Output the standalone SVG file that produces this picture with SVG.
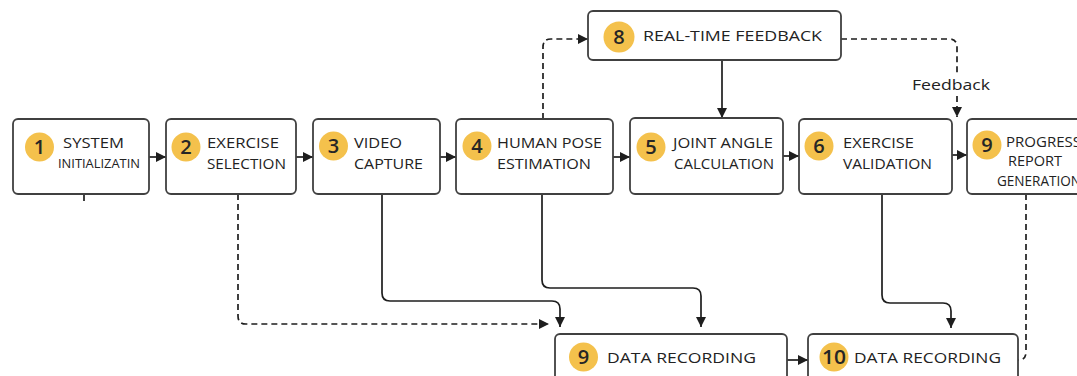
<svg xmlns="http://www.w3.org/2000/svg" width="1077" height="376" viewBox="0 0 1077 376">
  <defs>
    <style>
      .box { fill: #ffffff; stroke: #404040; stroke-width: 1.8; }
      .badge { fill: #f4c14c; }
      .num { font-family: "Open Sans", "Noto Sans", sans-serif; font-size: 20px; font-weight: 600; fill: #262626; text-anchor: middle; }
      .lbl { font-family: "Open Sans", "Noto Sans", sans-serif; font-size: 15px; font-weight: 500; fill: #222222; }
      .sm { font-size: 12px; }
      .line { fill: none; stroke: #1e1e1e; stroke-width: 1.7; }
      .dash { stroke-dasharray: 6 4; }
    </style>
    <marker id="arrow" viewBox="0 0 10 10" refX="10" refY="5" markerWidth="10" markerHeight="10" markerUnits="userSpaceOnUse" orient="auto">
      <path d="M0,0 L10,5 L0,10 Z" fill="#1e1e1e"/>
    </marker>
  </defs>

  <rect width="1077" height="376" fill="#ffffff"/>

  <!-- connectors -->
  <g id="connectors">
    <!-- main pipeline -->
    <path class="line" d="M149,157 H166" marker-end="url(#arrow)"/>
    <path class="line" d="M296,157 H313" marker-end="url(#arrow)"/>
    <path class="line" d="M440,157 H456" marker-end="url(#arrow)"/>
    <path class="line" d="M613,157 H630" marker-end="url(#arrow)"/>
    <path class="line" d="M783,156 H799" marker-end="url(#arrow)"/>
    <path class="line" d="M952,155 H967" marker-end="url(#arrow)"/>
    <!-- short stub under system initialization -->
    <path class="line" d="M84,195 V201"/>
    <!-- exercise selection to data recording (dashed) -->
    <path class="line dash" d="M238,194 V316 Q238,324 246,324 H549" marker-end="url(#arrow)"/>
    <!-- video capture to data recording -->
    <path class="line" d="M382,194 V293 Q382,301 390,301 H552 Q560,301 560,309 V327" marker-end="url(#arrow)"/>
    <!-- pose estimation to data recording -->
    <path class="line" d="M542,194 V280 Q542,288 550,288 H693 Q701,288 701,296 V327" marker-end="url(#arrow)"/>
    <!-- exercise validation to data recording 10 -->
    <path class="line" d="M882,194 V295 Q882,303 890,303 H943 Q951,303 951,311 V328" marker-end="url(#arrow)"/>
    <!-- progress report to data recording 10 (dashed) -->
    <path class="line dash" d="M1026,194 V352 Q1026,360 1018,360"/>
    <!-- data recording 9 to 10 -->
    <path class="line" d="M787,360 H808" marker-end="url(#arrow)"/>
    <!-- pose estimation up to real-time feedback (dashed) -->
    <path class="line dash" d="M543,119 V47 Q543,39 551,39 H588" marker-end="url(#arrow)"/>
    <!-- real-time feedback to joint angle -->
    <path class="line" d="M722,60 V118" marker-end="url(#arrow)"/>
    <!-- real-time feedback to progress report (dashed) -->
    <path class="line dash" d="M841,39 H949 Q957,39 957,47 V76"/>
    <path class="line dash" d="M957,96 V117" marker-end="url(#arrow)"/>
    <text class="lbl" x="951" y="90" text-anchor="middle" textLength="78" lengthAdjust="spacingAndGlyphs">Feedback</text>
  </g>

  <g id="n1">
    <rect class="box" x="13" y="119" width="136" height="75" rx="5"/>
    <circle class="badge" cx="39.5" cy="147" r="14.5"/>
    <text class="num" x="39.5" y="154">1</text>
    <text class="lbl" x="63" y="148" textLength="61" lengthAdjust="spacingAndGlyphs">SYSTEM</text>
    <text class="lbl sm" x="58" y="168" textLength="82" lengthAdjust="spacingAndGlyphs">INITIALIZATIN</text>
  </g>

  <g id="n2">
    <rect class="box" x="166" y="119" width="130" height="75" rx="5"/>
    <circle class="badge" cx="186" cy="147" r="14.5"/>
    <text class="num" x="186" y="154">2</text>
    <text class="lbl" x="207" y="148" textLength="72" lengthAdjust="spacingAndGlyphs">EXERCISE</text>
    <text class="lbl" x="207" y="168.5" textLength="79" lengthAdjust="spacingAndGlyphs">SELECTION</text>
  </g>

  <g id="n3">
    <rect class="box" x="313" y="119" width="127" height="75" rx="5"/>
    <circle class="badge" cx="333.5" cy="146" r="14.5"/>
    <text class="num" x="333.5" y="153">3</text>
    <text class="lbl" x="354" y="148" textLength="48" lengthAdjust="spacingAndGlyphs">VIDEO</text>
    <text class="lbl" x="354" y="168.5" textLength="69" lengthAdjust="spacingAndGlyphs">CAPTURE</text>
  </g>

  <g id="n4">
    <rect class="box" x="456" y="119" width="157" height="75" rx="5"/>
    <circle class="badge" cx="477" cy="146" r="14.5"/>
    <text class="num" x="477" y="153">4</text>
    <text class="lbl" x="497" y="148" textLength="105" lengthAdjust="spacingAndGlyphs">HUMAN POSE</text>
    <text class="lbl" x="497" y="168.5" textLength="94" lengthAdjust="spacingAndGlyphs">ESTIMATION</text>
  </g>

  <g id="n5">
    <rect class="box" x="630" y="118" width="153" height="76" rx="5"/>
    <circle class="badge" cx="651" cy="147" r="14.5"/>
    <text class="num" x="651" y="154">5</text>
    <text class="lbl" x="673" y="148" textLength="100" lengthAdjust="spacingAndGlyphs">JOINT ANGLE</text>
    <text class="lbl" x="674" y="168.5" textLength="100" lengthAdjust="spacingAndGlyphs">CALCULATION</text>
  </g>

  <g id="n6">
    <rect class="box" x="799" y="119" width="153" height="75" rx="5"/>
    <circle class="badge" cx="819" cy="146" r="14.5"/>
    <text class="num" x="819" y="153">6</text>
    <text class="lbl" x="843" y="148" textLength="71" lengthAdjust="spacingAndGlyphs">EXERCISE</text>
    <text class="lbl" x="843" y="168.5" textLength="89" lengthAdjust="spacingAndGlyphs">VALIDATION</text>
  </g>

  <!-- this box runs past the right edge of the canvas -->
  <g id="n9-progress">
    <rect class="box" x="967" y="119" width="130" height="75" rx="5"/>
    <circle class="badge" cx="987" cy="145" r="14.5"/>
    <text class="num" x="987" y="152">9</text>
    <text class="lbl" x="1006" y="147" textLength="75" lengthAdjust="spacingAndGlyphs">PROGRESS</text>
    <text class="lbl" x="1008" y="166" textLength="54" lengthAdjust="spacingAndGlyphs">REPORT</text>
    <text class="lbl" x="997" y="186" font-size="13" textLength="84" lengthAdjust="spacingAndGlyphs">GENERATION</text>
  </g>

  <g id="n8">
    <rect class="box" x="588" y="11" width="253" height="49" rx="5"/>
    <circle class="badge" cx="619" cy="37" r="15.5"/>
    <text class="num" x="619" y="44">8</text>
    <text class="lbl" x="643" y="40.5" textLength="179" lengthAdjust="spacingAndGlyphs">REAL-TIME FEEDBACK</text>
  </g>

  <g id="n9-data">
    <rect class="box" x="555" y="334" width="232" height="60" rx="5"/>
    <circle class="badge" cx="583.5" cy="357" r="14.5"/>
    <text class="num" x="583.5" y="364">9</text>
    <text class="lbl" x="607" y="362.5" textLength="149" lengthAdjust="spacingAndGlyphs">DATA RECORDING</text>
  </g>

  <g id="n10-data">
    <rect class="box" x="808" y="334" width="210" height="60" rx="5"/>
    <circle class="badge" cx="834" cy="357" r="14.5"/>
    <text class="num" x="834" y="364" textLength="24" lengthAdjust="spacingAndGlyphs">10</text>
    <text class="lbl" x="854" y="362.5" textLength="147" lengthAdjust="spacingAndGlyphs">DATA RECORDING</text>
  </g>
</svg>
